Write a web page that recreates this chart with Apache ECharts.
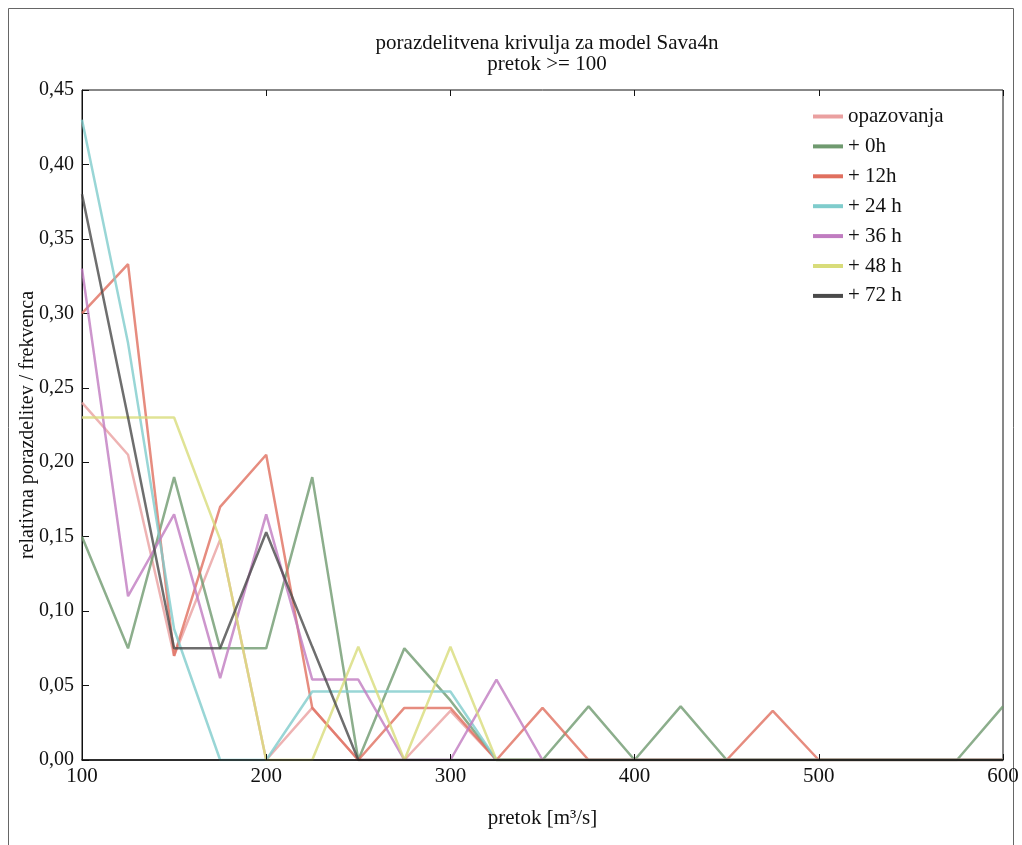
<!DOCTYPE html>
<html>
<head>
<meta charset="utf-8">
<script src="https://cdn.jsdelivr.net/npm/echarts@6/dist/echarts.min.js"></script>
<style>html,body{margin:0;padding:0;background:#fff}#c{width:1022px;height:845px}</style>
</head>
<body>
<div id="c"></div>
<script>
const xs = [100,125,150,175,200,225,250,275,300,325,350,375,400,425,450,475,500,525,550,575,600];
const seriesNames = ['opazovanja','+ 0h','+ 12h','+ 24 h','+ 36 h','+ 48 h','+ 72 h'];
const opazovanja = [0.24,0.205,0.07,0.148,0,0.035,0,0,0.033,0,0,0,0,0,0,0,0,0,0,0,0];
const h0  = [0.15,0.075,0.19,0.075,0.075,0.19,0,0.075,0.04,0,0,0.036,0,0.036,0,0,0,0,0,0,0.036];
const h12 = [0.30,0.333,0.07,0.17,0.205,0.035,0,0.035,0.035,0,0.035,0,0,0,0,0.033,0,0,0,0,0];
const h24 = [0.43,0.28,0.088,0,0,0.046,0.046,0.046,0.046,0,0,0,0,0,0,0,0,0,0,0,0];
const h36 = [0.33,0.11,0.165,0.055,0.165,0.054,0.054,0,0,0.054,0,0,0,0,0,0,0,0,0,0,0];
const h48 = [0.23,0.23,0.23,0.148,0,0,0.076,0,0.076,0,0,0,0,0,0,0,0,0,0,0,0];
const h72 = [0.38,0.23,0.075,0.075,0.153,0.076,0,0,0,0,0,0,0,0,0,0,0,0,0,0,0];
const yTicks = ['0,00','0,05','0,10','0,15','0,20','0,25','0,30','0,35','0,40','0,45'];

const allValues = [opazovanja,h0,h12,h24,h36,h48,h72];
const colors = ['#eaa0a0','#6f9a6f','#e06f5f','#7fcccc','#c07cc0','#d8dc7a','#4a4a4a'];
const font = 'Liberation Serif';
const fs = 21;

const chart = echarts.init(document.getElementById('c'));
chart.setOption({
  animation:false,
  backgroundColor:'#fff',
  graphic:[{type:'rect',shape:{x:8.5,y:8.5,width:1005,height:845},style:{fill:'none',stroke:'#666',lineWidth:1},silent:true}],
  title:{
    text:'porazdelitvena krivulja za model Sava4n\npretok >= 100',
    left:542, top:28, textAlign:'center',
    textStyle:{fontFamily:font,fontSize:fs,fontWeight:'normal',color:'#111',lineHeight:21}
  },
  legend:{
    orient:'vertical', left:813, top:106, padding:0, itemWidth:30, itemHeight:4, itemGap:8.9,
    icon:'rect',
    textStyle:{fontFamily:font,fontSize:fs,color:'#111',lineHeight:19},
    data:seriesNames
  },
  grid:{left:82,right:19,top:90,bottom:85,outerBoundsMode:'none',containLabel:false,show:true,borderColor:'#111',borderWidth:1,backgroundColor:'transparent'},
  xAxis:[{
    type:'value',min:100,max:600,interval:100,z:10,
    name:'pretok [m³/s]',nameLocation:'middle',nameGap:48,
    nameTextStyle:{fontFamily:font,fontSize:fs,color:'#111'},
    axisLine:{show:true,lineStyle:{color:'#111',width:1.5}},
    axisTick:{inside:true,length:6,lineStyle:{color:'#111'}},
    axisLabel:{fontFamily:font,fontSize:fs,color:'#111',margin:6},
    splitLine:{show:false}
  },{
    type:'value',min:100,max:600,interval:100,position:'top',
    axisLine:{show:false},axisTick:{inside:true,length:6,lineStyle:{color:'#111'}},
    axisLabel:{show:false},splitLine:{show:false}
  }],
  yAxis:[{
    type:'value',min:0,max:0.45,interval:0.05,
    name:'relativna porazdelitev / frekvenca',nameLocation:'middle',nameGap:44,nameMoveOverlap:false,
    nameTextStyle:{fontFamily:font,fontSize:20,color:'#111'},
    axisLine:{show:true,lineStyle:{color:'#111'}},
    axisTick:{inside:true,length:7,lineStyle:{color:'#111'}},
    axisLabel:{fontFamily:font,fontSize:20,color:'#111',margin:8,
      formatter:(v)=>yTicks[Math.round(v/0.05)]},
    splitLine:{show:false}
  }],
  series:seriesNames.map((n,i)=>({
    name:n,type:'line',symbol:'none',
    data:xs.map((x,j)=>[x,allValues[i][j]]),
    itemStyle:{color:colors[i]},
    lineStyle:{color:colors[i],width:2.5,opacity:0.8}
  }))
});
</script>
</body>
</html>
